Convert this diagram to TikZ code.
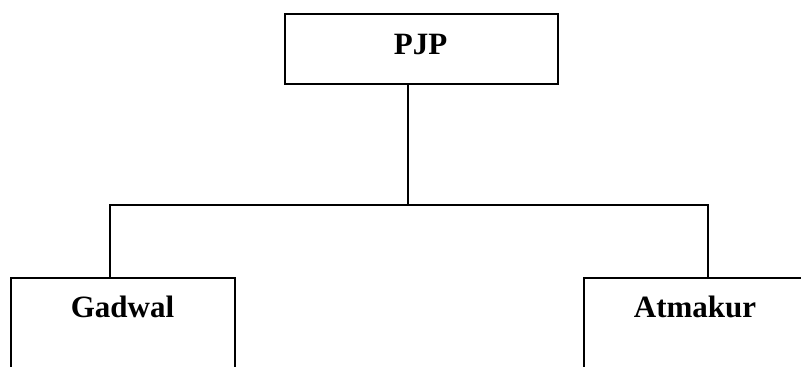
\documentclass[tikz,border=0pt]{standalone}
\usepackage{fontspec}
\setmainfont{Liberation Serif}
\begin{document}
\begin{tikzpicture}[x=1pt,y=1pt,
  box/.style={draw=black, line width=2pt, rectangle, inner sep=0pt, anchor=north west},
  lbl/.style={inner sep=0pt, anchor=base, font=\fontsize{31}{37}\selectfont\bfseries},
  conn/.style={draw=black, line width=2pt}]
\useasboundingbox (0,0) rectangle (801,-367);
% boxes
\node[box, minimum width=273pt, minimum height=70pt] (pjp) at (284,-13) {};
\node[box, minimum width=224pt, minimum height=160pt] (gadwal) at (10,-277) {};
\node[box, minimum width=224pt, minimum height=160pt] (atmakur) at (583,-277) {};
% labels
\node[lbl] (pjpT) at (420.5,-54) {PJP};
\node[lbl] (gadwalT) at (122.5,-317) {Gadwal};
\node[lbl] (atmakurT) at (695,-317) {Atmakur};
% connectors
\coordinate (j) at (408,-205);
\coordinate (jl) at (109.5,-205);
\coordinate (jr) at (708,-205);
\draw[conn] (pjp.south -| j) -- (j);
\draw[conn, line cap=rect] (jl) -- (jr);
\draw[conn] (jl) -- (jl |- gadwal.north);
\draw[conn] (jr) -- (jr |- atmakur.north);
\end{tikzpicture}
\end{document}
